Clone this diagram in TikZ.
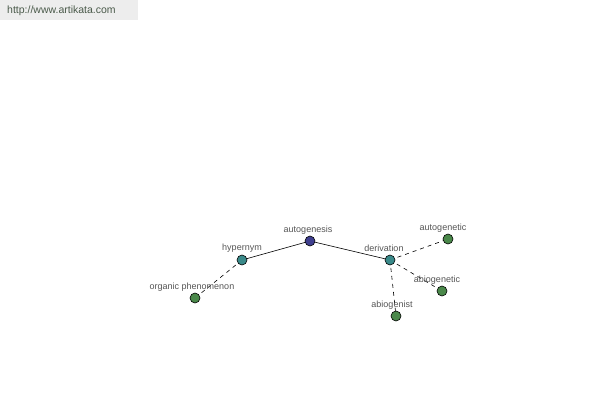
\documentclass[tikz,border=0pt]{standalone}
\usepackage{fontspec}
\setmainfont{Liberation Sans}
\definecolor{hubc}{HTML}{3F3F8F}
\definecolor{midc}{HTML}{3A8A8A}
\definecolor{leafc}{HTML}{4A884A}
\definecolor{urlc}{HTML}{4A5A4A}
\definecolor{lblc}{HTML}{555555}
\begin{document}
\begin{tikzpicture}[x=1pt,y=-1pt,
  dot/.style={circle,draw=black,line width=0.6pt,minimum size=10pt,inner sep=0pt},
  hub/.style={dot,fill=hubc},
  mid/.style={dot,fill=midc},
  leaf/.style={dot,fill=leafc},
  lbl/.style={font=\fontsize{9}{11}\selectfont,text=lblc,inner sep=0pt},
  rel/.style={line width=0.6pt},
  reld/.style={line width=0.6pt,dash pattern=on 4pt off 4pt}]
\useasboundingbox (0,0) rectangle (600,400);
\fill[black!7] (0,0) rectangle (138,20);
\node[font=\fontsize{10.5}{12}\selectfont,text=urlc,anchor=west,inner sep=0pt] (url) at (7,11) {http://www.artikata.com};
\coordinate (pA) at (310,241);
\coordinate (pH) at (242,260);
\coordinate (pO) at (195,298);
\coordinate (pD) at (390,260);
\coordinate (pG) at (448,239);
\coordinate (pB) at (442,291);
\coordinate (pN) at (396,316);
\draw[rel] (pA) -- (pH);
\draw[rel] (pA) -- (pD);
\draw[reld] (pH) -- (pO);
\draw[reld] (pD) -- (pG);
\draw[reld] (pD) -- (pB);
\draw[reld] (pD) -- (pN);
\node[hub] (a) at (pA) {};
\node[mid] (h) at (pH) {};
\node[leaf] (o) at (pO) {};
\node[mid] (d) at (pD) {};
\node[leaf] (g) at (pG) {};
\node[leaf] (b) at (pB) {};
\node[leaf] (n) at (pN) {};
\node[lbl] (la) at (308,230) {autogenesis};
\node[lbl] (lh) at (242,248) {hypernym};
\node[lbl] (lo) at (192,287) {organic phenomenon};
\node[lbl] (ld) at (384,248) {derivation};
\node[lbl] (lg) at (443,228) {autogenetic};
\node[lbl] (lb) at (437,280) {abiogenetic};
\node[lbl] (ln) at (392,305) {abiogenist};
\end{tikzpicture}
\end{document}
